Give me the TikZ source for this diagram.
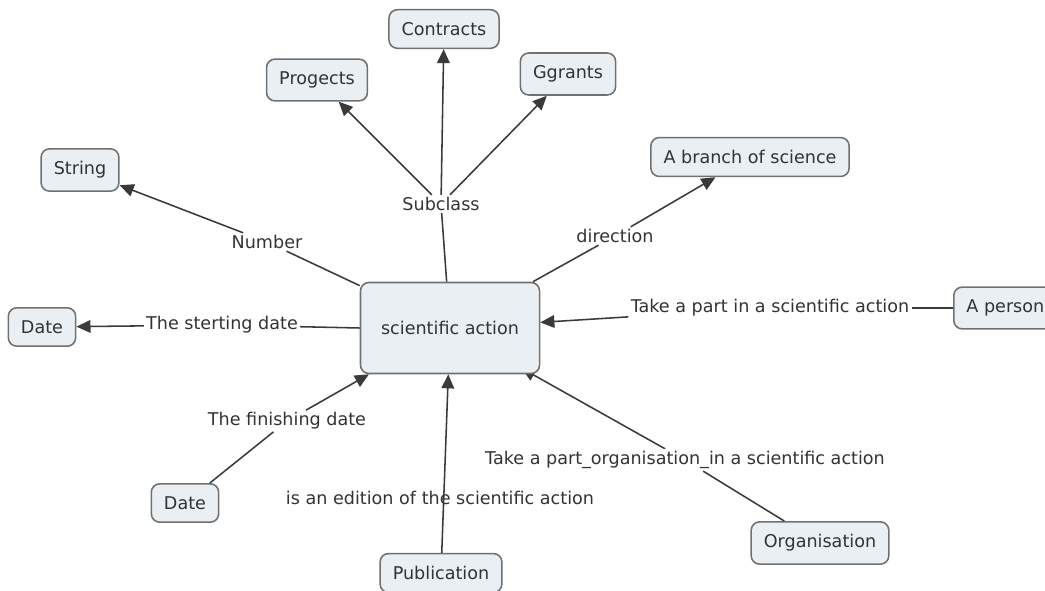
\documentclass[tikz,border=0pt]{standalone}
\usepackage{fontspec}
\setmainfont{DejaVu Sans}
\usetikzlibrary{arrows.meta,backgrounds}
\definecolor{conceptfill}{HTML}{E9EFF3}
\definecolor{conceptline}{HTML}{707070}
\definecolor{linkline}{HTML}{3A3A3A}
\begin{document}
\begin{tikzpicture}[x=0.025cm,y=-0.025cm,
  concept/.style={draw=conceptline, fill=conceptfill, line width=1.1pt, rounded corners=6pt, inner xsep=9pt, inner ysep=9pt, text=black!80, font=\fontsize{12.5}{14}\selectfont},
  phrase/.style={fill=white, inner sep=1.5pt, text=black!80, font=\fontsize{12.5}{14}\selectfont},
  link/.style={draw=linkline, line width=1.1pt},
  arr/.style={link, -{Triangle[length=10pt,width=9pt]}}]
\useasboundingbox (0,0) rectangle (1045,591);
\node[concept, minimum width=4.475cm, minimum height=2.275cm] (tmain) at (450,328){scientific action};
\node[concept] (tcon) at (444,29){Contracts};
\node[concept] (tpro) at (317,80){Progects};
\node[concept] (tgra) at (568,74){Ggrants};
\node[concept] (tstr) at (80,170){String};
\node[concept] (tbra) at (750,157){A branch of science};
\node[concept, anchor=west] (tper) at (953,308){A person};
\node[concept] (tda1) at (42,327){Date};
\node[concept] (tda2) at (185,503){Date};
\node[concept] (tpub) at (441,573){Publication};
\node[concept] (torg) at (820,543){Organisation};
\node[phrase] (lsub) at (441,204){Subclass};
\node[phrase] (lnum) at (267,242){Number};
\node[phrase] (ldir) at (615,236){direction};
\node[phrase] (lsta) at (222,325){The sterting date};
\node[phrase] (ltak) at (770,308){Take a part in a scientific action};
\node[phrase] (lfin) at (287,421){The finishing date};
\node[phrase, fill=none] (ledi) at (440,498){is an edition of the scientific action};
\node[phrase] (lorg) at (685,460){Take a part\_organisation\_in a scientific action};
\draw[link](tmain) -- (lsub);
\draw[arr](lsub) -- (tpro);
\draw[arr](lsub) -- (tcon);
\draw[arr](lsub) -- (tgra);
\draw[link](tmain) -- (lnum);
\draw[arr](lnum) -- (tstr);
\draw[link](tmain) -- (ldir);
\draw[arr](ldir) -- (tbra);
\draw[link](tmain.west) -- (lsta);
\draw[arr](lsta) -- (tda1);
\draw[link](tper) -- (ltak);
\draw[arr](ltak) -- (tmain);
\draw[link](tda2) -- (lfin);
\draw[arr](lfin) -- (tmain);
\draw[arr](tpub) -- (tmain);
\draw[link](torg) -- (lorg);
\begin{scope}[on background layer]
\draw[arr, shorten >=-9pt](lorg) -- (tmain);
\end{scope}
\end{tikzpicture}
\end{document}
